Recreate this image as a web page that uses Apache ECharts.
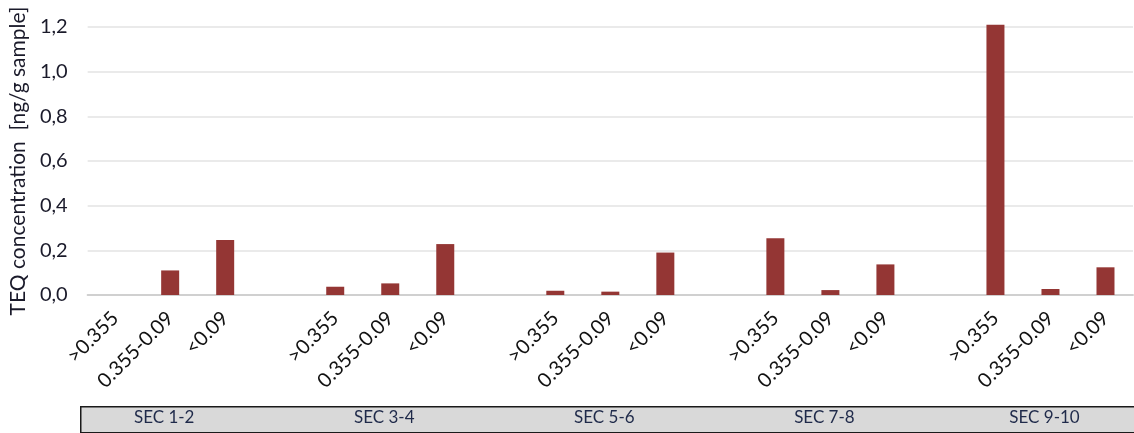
<!DOCTYPE html>
<html>
<head>
<meta charset="utf-8">
<script src="https://cdn.jsdelivr.net/npm/echarts@6/dist/echarts.min.js"></script>
<style>
  html, body { margin: 0; padding: 0; background: #fff; }
  #chart { width: 1134px; height: 433px; }
</style>
</head>
<body>
<div id="chart"></div>
<script>
const groups = ['SEC 1-2', 'SEC 3-4', 'SEC 5-6', 'SEC 7-8', 'SEC 9-10'];
const fractions = ['>0.355', '0.355-0.09', '<0.09'];
const sec12 = [0, 0.11, 0.246];
const sec34 = [0.037, 0.052, 0.228];
const sec56 = [0.019, 0.015, 0.19];
const sec78 = [0.254, 0.022, 0.137];
const sec910 = [1.21, 0.027, 0.124];
const yTicks = [0, 0.2, 0.4, 0.6, 0.8, 1.0, 1.2];
const yName = 'TEQ concentration  [ng/g sample]';

const groupValues = [sec12, sec34, sec56, sec78, sec910];
const categories = [];
const groupCats = [];
const barData = [];
groups.forEach((g, gi) => {
  if (gi > 0) { categories.push(''); groupCats.push(''); barData.push(null); }
  fractions.forEach((f, fi) => {
    categories.push(f);
    groupCats.push(fi === 1 ? g : '');
    barData.push(groupValues[gi][fi]);
  });
});

const FONT = 'Lato, "Open Sans", sans-serif';
const chart = echarts.init(document.getElementById('chart'), null, { renderer: 'canvas' });
chart.setOption({
  animation: false,
  backgroundColor: '#ffffff',
  textStyle: { fontFamily: FONT },
  grid: { left: 87, right: 1, top: 27, bottom: 138, containLabel: false },
  graphic: [{
    type: 'rect',
    left: 80, top: 406,
    shape: { width: 1060, height: 26 },
    style: { fill: '#d9d9d9', stroke: '#1a1a1a', lineWidth: 1.5 },
    z: 0
  }],
  xAxis: [{
    type: 'category',
    data: categories,
    position: 'bottom',
    axisLine: { show: true, lineStyle: { color: '#d0d0d0', width: 2 } },
    axisTick: { show: false },
    axisLabel: {
      interval: 0, rotate: 45, margin: 20,
      fontSize: 20, color: '#111111', fontFamily: FONT
    },
    splitLine: { show: false }
  }, {
    type: 'category',
    data: groupCats,
    position: 'bottom',
    offset: 108,
    axisLine: { show: false },
    axisTick: { show: false },
    axisLabel: {
      interval: 0, margin: 6,
      fontSize: 17, color: '#1f2a4a', fontFamily: FONT,
      padding: [0, 12, 0, 0]
    },
    z: 10
  }],
  yAxis: {
    type: 'value',
    min: 0, max: 1.2, interval: 0.2,
    name: yName,
    nameLocation: 'middle',
    nameGap: 55,
    nameRotate: 90,
    nameTextStyle: { fontSize: 21, color: '#1a1a2a', fontFamily: FONT },
    axisLine: { show: false },
    axisTick: { show: false },
    axisLabel: {
      margin: 20, fontSize: 20, color: '#1a1a2a', fontFamily: FONT,
      formatter: v => yTicks.some(t => Math.abs(t - v) < 1e-9) ? v.toFixed(1).replace('.', ',') : ''
    },
    splitLine: { show: true, lineStyle: { color: '#e3e3e3', width: 1.5 } }
  },
  series: [{
    type: 'bar',
    data: barData,
    barWidth: 18,
    clip: false,
    itemStyle: { color: '#943634' },
    xAxisIndex: 0
  }]
});
</script>
</body>
</html>
